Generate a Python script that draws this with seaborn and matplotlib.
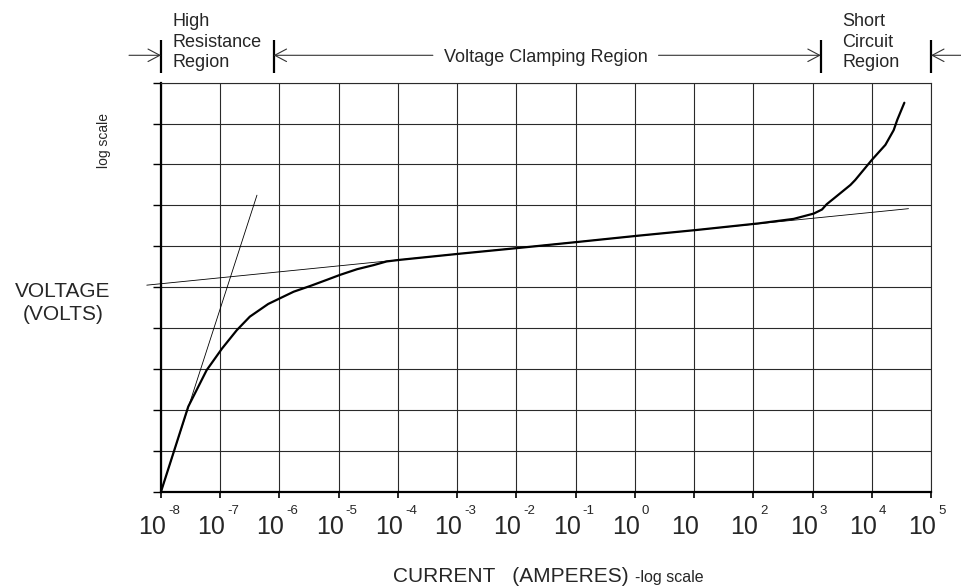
import numpy as np
import matplotlib
matplotlib.use("Agg")
import matplotlib.pyplot as plt
from matplotlib.ticker import NullLocator
import seaborn as sns

# ---------------- data ----------------
# current as decade exponent (log10 amperes), voltage in grid divisions (log scale)
log_current = [-8.0, -7.54, -7.23, -6.97, -6.72, -6.50, -6.19, -5.99, -5.76, -5.48,
               -5.20, -4.98, -4.69, -4.41, -4.19, -3.96, -2.95, -1.96, -0.94, 0.06,
               1.05, 2.09, 2.68, 3.02, 3.16, 3.24, 3.36, 3.64, 3.72, 4.00,
               4.23, 4.37, 4.43, 4.55]
voltage_div = [0.0, 2.08, 2.97, 3.50, 3.95, 4.28, 4.59, 4.73, 4.89, 5.03,
               5.18, 5.30, 5.44, 5.54, 5.63, 5.67, 5.82, 5.96, 6.11, 6.26,
               6.40, 6.56, 6.67, 6.80, 6.90, 7.03, 7.17, 7.50, 7.62, 8.11,
               8.48, 8.84, 9.09, 9.51]

steep_log_current = [-8.0, -6.38]
steep_voltage = [0.0, 7.25]
clamp_log_current = [-8.24, 4.62]
clamp_voltage = [5.05, 6.92]

tick_exps = list(range(-8, 6))
tick_bases = ["10"] * len(tick_exps)
tick_sups = ["-8", "-7", "-6", "-5", "-4", "-3", "-2", "-1", "0", "", "2", "3", "4", "5"]
y_grid = list(range(0, 11))

region_bounds = [-8.0, -6.10, 3.14, 5.0]   # log10 current of the region bars
region_labels = ["High\nResistance\nRegion", "Voltage Clamping Region", "Short\nCircuit\nRegion"]

# ---------------- figure ----------------
sns.set_style("white")
plt.rcParams["font.family"] = ["Liberation Sans", "DejaVu Sans"]

fig = plt.figure(figsize=(9.61, 5.88), dpi=100)
ax = fig.add_axes([161 / 961, 1 - 491.7 / 588, 770 / 961, 409 / 588])

cur = 10.0 ** np.array(log_current)
sns.lineplot(x=cur, y=voltage_div, ax=ax, sort=False, estimator=None,
             color="black", lw=1.6, zorder=5)
sns.lineplot(x=10.0 ** np.array(steep_log_current), y=steep_voltage, ax=ax,
             sort=False, estimator=None, color="black", lw=0.6, zorder=4)
sns.lineplot(x=10.0 ** np.array(clamp_log_current), y=clamp_voltage, ax=ax,
             sort=False, estimator=None, color="black", lw=0.6, zorder=4,
             clip_on=False)

ax.set_xscale("log")
ax.set_xlim(10.0 ** tick_exps[0], 10.0 ** tick_exps[-1])
ax.set_ylim(0, 10)
ax.set_xticks([10.0 ** k for k in tick_exps])
ax.set_xticklabels([""] * len(tick_exps))
ax.xaxis.set_minor_locator(NullLocator())
ax.set_yticks(y_grid)
ax.set_yticklabels([""] * len(y_grid))
ax.set_xlabel("")
ax.set_ylabel("")
ax.grid(True, which="major", color="#2a2a2a", lw=0.8)
ax.tick_params(axis="x", direction="out", length=4, width=1.2, color="black", bottom=True)
ax.tick_params(axis="y", direction="out", length=6, width=1.0, color="black", left=True)
for s in ["top", "right"]:
    ax.spines[s].set_visible(True)
    ax.spines[s].set_color("#2a2a2a")
    ax.spines[s].set_linewidth(0.8)
for s in ["left", "bottom"]:
    ax.spines[s].set_color("black")
    ax.spines[s].set_linewidth(1.6)

# tick labels 10^k drawn as base + raised exponent
for k, b, sup in zip(tick_exps, tick_bases, tick_sups):
    ax.annotate(b, xy=(10.0 ** k, 0), xycoords=("data", "axes fraction"),
                xytext=(5, -23), textcoords="offset pixels", ha="right", va="top",
                fontsize=18, annotation_clip=False)
    if sup:
        ax.annotate(sup, xy=(10.0 ** k, 0), xycoords=("data", "axes fraction"),
                    xytext=(7, -13), textcoords="offset pixels", ha="left", va="top",
                    fontsize=9.5, annotation_clip=False)

# region markers
bar_lo, bar_hi, arr_y = 10.24, 11.04, 10.67
for b in region_bounds:
    ax.plot([10.0 ** b, 10.0 ** b], [bar_lo, bar_hi], color="black", lw=1.6,
            clip_on=False, solid_capstyle="butt")

aprops = dict(arrowstyle="->,head_length=0.85,head_width=0.45", lw=0.8,
              color="#333333", shrinkA=0, shrinkB=0)
ax.annotate("", xy=(10.0 ** region_bounds[0], arr_y), xytext=(10.0 ** -8.54, arr_y),
            arrowprops=aprops, annotation_clip=False)
ax.annotate("", xy=(10.0 ** region_bounds[1], arr_y), xytext=(10.0 ** -3.41, arr_y),
            arrowprops=aprops, annotation_clip=False)
ax.annotate("", xy=(10.0 ** region_bounds[2], arr_y), xytext=(10.0 ** 0.40, arr_y),
            arrowprops=aprops, annotation_clip=False)
ax.annotate("", xy=(10.0 ** region_bounds[3], arr_y), xytext=(10.0 ** 5.55, arr_y),
            arrowprops=aprops, annotation_clip=False)

ax.text(10.0 ** -7.81, 11.70, region_labels[0], ha="left", va="top", fontsize=13,
        linespacing=1.28)
ax.text(10.0 ** -1.50, 10.51, region_labels[1], ha="center", va="baseline", fontsize=13)
ax.text(10.0 ** 3.50, 11.70, region_labels[2], ha="left", va="top", fontsize=13,
        linespacing=1.28)

# axis titles
fig.text(63 / 961, 1 - 303 / 588, "VOLTAGE\n(VOLTS)", ha="center", va="center",
         fontsize=15, linespacing=1.3)
fig.text(104 / 961, 1 - 140 / 588, "log scale", ha="center", va="center",
         rotation=90, fontsize=10)
fig.text(393 / 961, 1 - 582 / 588, "CURRENT   (AMPERES)", ha="left", va="baseline",
         fontsize=15)
fig.text(635 / 961, 1 - 582 / 588, "-log scale", ha="left", va="baseline", fontsize=11.5)

fig.savefig("out.png", dpi=100)
